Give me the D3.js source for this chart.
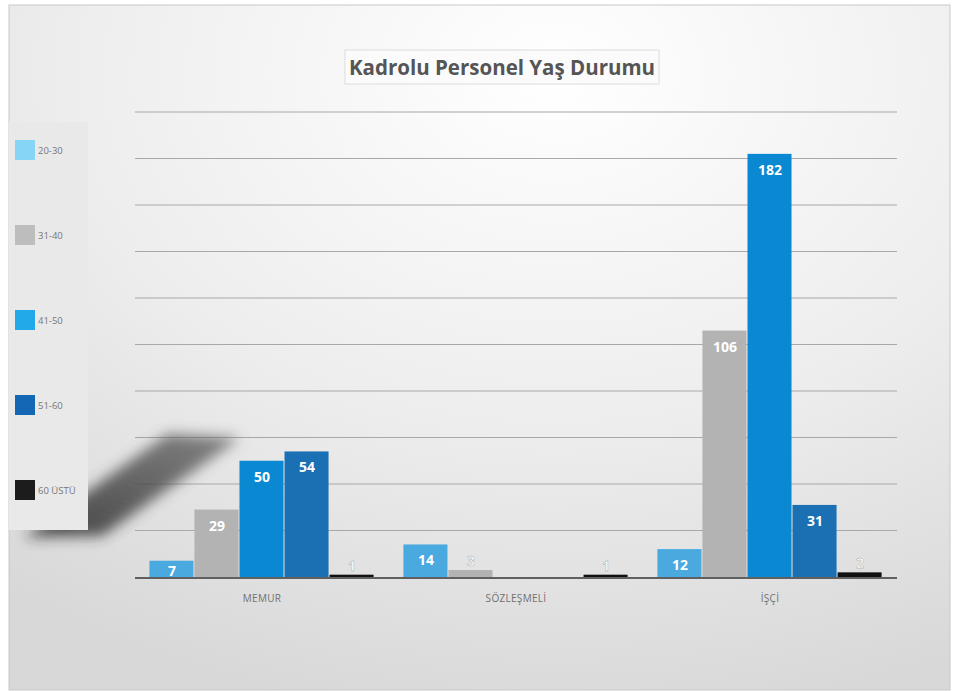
<!DOCTYPE html>
<html>
<head>
<meta charset="utf-8">
<script src="https://cdn.jsdelivr.net/npm/d3@7"></script>
<style>
  body { margin: 0; background: #fff; }
  svg { display: block; font-family: "Open Sans", "DejaVu Sans", sans-serif; }
</style>
</head>
<body>
<svg id="chart" width="958" height="691"></svg>
<script>
// chart data
var categories = ['MEMUR', 'SÖZLEŞMELİ', 'İŞÇİ'];
var series = ['20-30', '31-40', '41-50', '51-60', '60 ÜSTÜ'];
var values20_30 = [7, 14, 12];
var values31_40 = [29, 3, 106];
var values41_50 = [50, 0, 182];
var values51_60 = [54, 0, 31];
var values60ustu = [1, 1, 2];
var gridTicks = [20, 40, 60, 80, 100, 120, 140, 160, 180, 200];

var barColors = ['#4aa9df', '#b3b3b3', '#0a88d2', '#1b6fb3', '#111111'];
var legendColors = ['#86d4f6', '#bdbdbd', '#22a9ea', '#1467b5', '#1c1c1c'];

var allValues = [values20_30, values31_40, values41_50, values51_60, values60ustu];

var svg = d3.select('#chart');
var defs = svg.append('defs');

// background panel
var grad = defs.append('radialGradient')
  .attr('id', 'bg').attr('cx', '0.58').attr('cy', '0.1').attr('r', '0.95');
grad.append('stop').attr('offset', '0%').attr('stop-color', '#ffffff');
grad.append('stop').attr('offset', '55%').attr('stop-color', '#ededed');
grad.append('stop').attr('offset', '100%').attr('stop-color', '#d8d8d8');

defs.append('filter').attr('id', 'blur')
  .attr('x', '-30%').attr('y', '-30%').attr('width', '160%').attr('height', '160%')
  .append('feGaussianBlur').attr('stdDeviation', 7);

var shade = defs.append('linearGradient').attr('id', 'shade')
  .attr('x1', '0').attr('y1', '1').attr('x2', '1').attr('y2', '0');
shade.append('stop').attr('offset', '0%').attr('stop-color', '#1e1e1e');
shade.append('stop').attr('offset', '100%').attr('stop-color', '#6a6a6a');

svg.append('rect')
  .attr('x', 9).attr('y', 5).attr('width', 941).attr('height', 685)
  .attr('fill', 'url(#bg)').attr('stroke', '#c8c8c8');

// scales
var x0 = d3.scaleBand().domain(categories).range([135, 897]).padding(0);
var x1 = d3.scaleBand().domain(series).range([0, x0.bandwidth()])
  .paddingInner(0).paddingOuter(0.32);
var y = d3.scaleLinear().domain([0, 200]).range([577, 112]);

// grid lines
svg.append('g').selectAll('line').data(gridTicks).join('line')
  .attr('x1', 135).attr('x2', 897)
  .attr('y1', function(d) { return y(d); }).attr('y2', function(d) { return y(d); })
  .attr('stroke', '#a8a8a8').attr('stroke-width', 1);

// shadow behind the legend (decoration in the original)
svg.append('polygon')
  .attr('points', '168,434 240,438 102,536 24,537')
  .attr('fill', 'url(#shade)').attr('opacity', 0.8)
  .attr('filter', 'url(#blur)');

// legend panel
svg.append('rect')
  .attr('x', 9).attr('y', 122).attr('width', 79).attr('height', 408)
  .attr('fill', '#e9e9e9');

var legend = svg.append('g').selectAll('g').data(series).join('g')
  .attr('transform', function(d, i) { return 'translate(15,' + (140 + i * 85) + ')'; });
legend.append('rect')
  .attr('width', 20).attr('height', 20)
  .attr('fill', function(d, i) { return legendColors[i]; });
legend.append('text')
  .attr('x', 23).attr('y', 14)
  .attr('font-size', 9.5).attr('fill', '#777')
  .text(function(d) { return d; });

// axis line sits just under the bars
svg.append('line')
  .attr('x1', 135).attr('x2', 897).attr('y1', y(0) + 1).attr('y2', y(0) + 1)
  .attr('stroke', '#606060').attr('stroke-width', 2);

// bars
var groups = svg.append('g').selectAll('g').data(categories).join('g')
  .attr('transform', function(d) { return 'translate(' + x0(d) + ',0)'; });

var barData = function(c, ci) {
  return series.map(function(s, si) {
    return { series: s, index: si, value: allValues[si][ci] };
  }).filter(function(d) { return d.value > 0; });
};

groups.selectAll('rect').data(barData).join('rect')
  .attr('x', function(d) { return x1(d.series); })
  .attr('width', x1.bandwidth() - 1)
  .attr('y', function(d) { return y(d.value); })
  .attr('height', function(d) { return y(0) - y(d.value); })
  .attr('fill', function(d) { return barColors[d.index]; });

var inside = function(d) { return (y(0) - y(d.value)) > 12; };

groups.append('g')
  .selectAll('text').data(barData).join('text')
  .attr('x', function(d) { return x1(d.series) + x1.bandwidth() / 2; })
  .attr('y', function(d) {
    return inside(d) ? Math.min(y(d.value) + 21, y(0) - 1) : y(d.value) - 4;
  })
  .attr('text-anchor', 'middle')
  .attr('font-size', 14).attr('font-weight', 'bold')
  .attr('fill', '#fff')
  .attr('stroke', function(d) { return inside(d) ? 'none' : '#9a9a9a'; })
  .attr('stroke-width', 0.4)
  .text(function(d) { return d.value; });

svg.append('g').selectAll('text').data(categories).join('text')
  .attr('x', function(d) { return x0(d) + x0.bandwidth() / 2; })
  .attr('y', 602)
  .attr('text-anchor', 'middle')
  .attr('font-size', 10).attr('fill', '#707070')
  .attr('letter-spacing', 0.3)
  .text(function(d) { return d; });

// title
var titleBox = svg.append('rect');
var title = svg.append('text')
  .attr('x', 502).attr('y', 75)
  .attr('text-anchor', 'middle')
  .attr('font-size', 20.5).attr('font-weight', 'bold')
  .attr('fill', '#555')
  .text('Kadrolu Personel Yaş Durumu');
var tb = title.node().getBBox();
titleBox
  .attr('x', tb.x - 4).attr('y', 50).attr('width', tb.width + 8).attr('height', 34)
  .attr('fill', '#fbfbfb').attr('stroke', '#dcdcdc');
</script>
</body>
</html>
